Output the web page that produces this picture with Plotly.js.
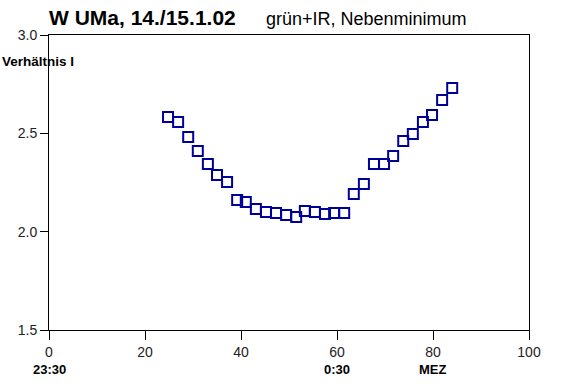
<!DOCTYPE html>
<html><head><meta charset="utf-8">
<script src="https://cdn.plot.ly/plotly-3.0.1.min.js"></script>
<style>body{margin:0;background:#fff}#c{width:566px;height:392px}</style>
</head><body><div id="c"></div>
<script>
const xVals = [24.8,26.9,29.0,31.0,33.1,35.0,37.1,39.2,41.0,43.1,45.2,47.3,49.4,51.5,53.3,55.4,57.5,59.4,61.5,63.5,65.6,67.7,69.8,71.7,73.8,75.8,77.9,79.8,81.9,84.0];
const ratio = [2.583,2.558,2.481,2.410,2.344,2.288,2.253,2.161,2.151,2.115,2.100,2.095,2.085,2.075,2.105,2.100,2.090,2.095,2.095,2.192,2.242,2.344,2.344,2.385,2.461,2.497,2.558,2.593,2.670,2.731];
const timeLabels = [{x:0,t:'23:30'},{x:60,t:'0:30'},{x:80,t:'MEZ'}];
const fontF = 'Liberation Sans, Arial, sans-serif';
const ann = [
  {text:'<b>W UMa, 14./15.1.02</b>', xref:'paper', yref:'paper', x:-0.004, y:1.06, xanchor:'left', yanchor:'middle', showarrow:false, font:{size:21, color:'#000', family:fontF}},
  {text:'grün+IR, Nebenminimum', xref:'paper', yref:'paper', x:0.448, y:1.054, xanchor:'left', yanchor:'middle', showarrow:false, font:{size:18, color:'#000', family:fontF}},
  {text:'<b>Verhältnis I</b>', xref:'paper', yref:'paper', x:-0.102, y:0.91, xanchor:'left', yanchor:'middle', showarrow:false, font:{size:13.5, color:'#000', family:fontF}}
];
timeLabels.forEach(o=>ann.push({text:'<b>'+o.t+'</b>', xref:'x', yref:'paper', x:o.x, y:-0.133, xanchor:'center', yanchor:'middle', showarrow:false, font:{size:13,color:'#000',family:fontF}}));
Plotly.newPlot('c',[{
  x:xVals, y:ratio, type:'scatter', mode:'markers',
  marker:{symbol:'square-open', size:10, color:'#000099', line:{width:2, color:'#000099'}}
}],{
  width:566, height:392,
  margin:{l:49, r:37, t:35, b:62},
  paper_bgcolor:'#fff', plot_bgcolor:'#fff',
  showlegend:false,
  font:{family:fontF, color:'#000'},
  xaxis:{range:[0,100], dtick:20, tick0:0, showgrid:false, zeroline:false, showline:true, linecolor:'#000', linewidth:1, mirror:true, ticks:'outside', ticklen:9, tickcolor:'#000', tickfont:{size:14, color:'#222', family:fontF}},
  yaxis:{range:[1.5,3.0], dtick:0.5, tick0:1.5, tickformat:'.1f', showgrid:false, zeroline:false, showline:true, linecolor:'#000', linewidth:1, mirror:true, ticks:'outside', ticklen:8, tickcolor:'#000', tickfont:{size:14, color:'#222', family:fontF}},
  annotations:ann
},{displayModeBar:false, staticPlot:true});
</script></body></html>
